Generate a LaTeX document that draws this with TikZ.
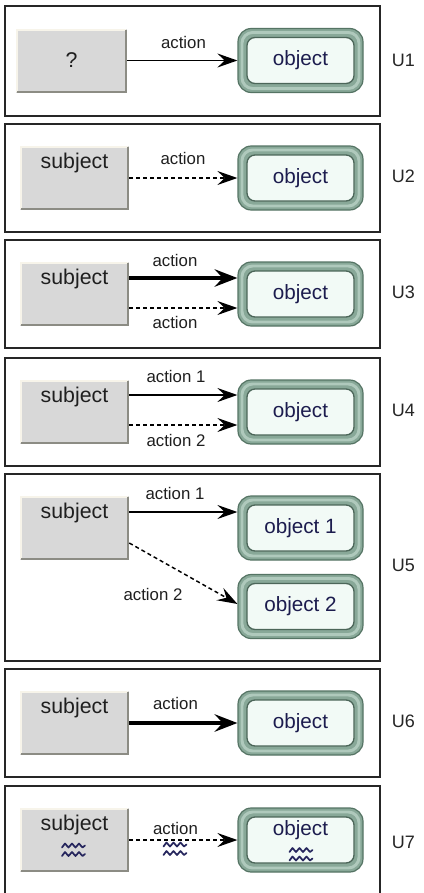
\documentclass[tikz,border=0pt]{standalone}
\usepackage{fontspec}
\setmainfont{Liberation Sans}
\usetikzlibrary{arrows.meta,calc}
\definecolor{ringmid}{HTML}{88A898}
\definecolor{ringdark}{HTML}{557464}
\definecolor{ringlight}{HTML}{AFC9BC}
\definecolor{ringinner}{HTML}{4C6659}
\definecolor{mint}{HTML}{F2FAF6}
\definecolor{subjfill}{HTML}{D8D8D8}
\definecolor{subjlight}{HTML}{F7F4EA}
\definecolor{subjdark}{HTML}{8C8C84}
\definecolor{objtext}{HTML}{1C1C4E}
\definecolor{wavec}{HTML}{27275E}
\begin{document}
\begin{tikzpicture}[x=0.75pt,y=-0.75pt,
  frame/.style={draw=black!85, line width=1.4pt},
  subj/.style={rectangle, fill=subjfill, minimum width=81.75pt, minimum height=48pt,
    inner sep=0pt, font=\fontsize{16}{18}\selectfont, text=black!88,
    path picture={
      \draw[subjlight, line width=1.5pt]
        ([shift={(0.75pt,0.75pt)}]path picture bounding box.south west) |-
        ([shift={(-0.75pt,-0.75pt)}]path picture bounding box.north east);
      \draw[subjdark, line width=1.5pt]
        ([shift={(0.75pt,0.75pt)}]path picture bounding box.south west) -|
        ([shift={(-0.75pt,-0.75pt)}]path picture bounding box.north east);
    }},
  subjtop/.style={subj, text height=17pt, text depth=31pt},
  obj/.style={rectangle, rounded corners=10pt, minimum width=93.75pt, minimum height=48pt,
    inner sep=0pt, draw=ringdark, line width=0.9pt, font=\fontsize{15.5}{18}\selectfont, text=objtext,
    path picture={
      \fill[ringmid] (path picture bounding box.south west) rectangle (path picture bounding box.north east);
      \draw[ringlight, line width=2.2pt, rounded corners=8pt]
        ([shift={(3pt,3pt)}]path picture bounding box.south west) rectangle
        ([shift={(-3pt,-3pt)}]path picture bounding box.north east);
      \draw[fill=mint, draw=ringinner, line width=1pt, rounded corners=6pt]
        ([shift={(6.75pt,6.75pt)}]path picture bounding box.south west) rectangle
        ([shift={(-6.75pt,-6.75pt)}]path picture bounding box.north east);
    }},
  objtop/.style={obj, text height=20.5pt, text depth=27.5pt},
  conn/.style={line width=1.1pt, -{Stealth[length=15pt,width=10.5pt,inset=5.5pt]}},
  dashconn/.style={conn, dash pattern=on 3pt off 2.25pt},
  thickconn/.style={line width=3.4pt, -{Stealth[length=17pt,width=13pt,inset=6pt]}},
  lbl/.style={font=\fontsize{12.6}{14}\selectfont, text=black!88, inner sep=0pt},
  ulbl/.style={font=\fontsize{13.5}{15}\selectfont, text=black!85, inner sep=0pt},
  waves/.pic={
    \foreach \dy in {-4.5,4} {
      \draw[wavec, line width=1.3pt, line join=round, line cap=round, shift={(0,\dy)}]
        (-11.5,1.5) -- (-8.5,-2.5) -- (-5,1.5) -- (-1.5,-2.5) -- (2,1.5) -- (5.5,-2.5) -- (9,1.5) -- (11.5,-0.5);
    }
  }
]
\useasboundingbox[fill=white] (0,0) rectangle (424,893);

% ---------- U1 ----------
\draw[frame] (5,6) rectangle (380,116);
\node[subj, minimum width=83.25pt] (s1) at (71.5,60.5) {?};
\node[obj] (o1) at (300.5,60.5) {object};
\draw[conn] (s1) -- (o1);
\node[lbl] (a1) at (183.5,42) {action};
\node[ulbl] (u1) at (403.5,60) {U1};

% ---------- U2 ----------
\draw[frame] (5,124) rectangle (380,232);
\node[subjtop] (s2) at (74.5,178) {subject};
\node[obj] (o2) at (300.5,178) {object};
\draw[dashconn] (s2) -- (o2);
\node[lbl] (a2) at (183,158) {action};
\node[ulbl] (u2) at (403.5,176) {U2};

% ---------- U3 ----------
\draw[frame] (5,240) rectangle (380,348);
\node[subjtop] (s3) at (74.5,294) {subject};
\node[obj] (o3) at (300.5,294) {object};
\draw[thickconn] ([yshift=12pt]s3.east) -- ([yshift=12pt]o3.west);
\draw[dashconn] ([yshift=-10.5pt]s3.east) -- ([yshift=-10.5pt]o3.west);
\node[lbl] (a3) at (175,260) {action};
\node[lbl] (b3) at (175,322) {action};
\node[ulbl] (u3) at (403.5,292) {U3};

% ---------- U4 ----------
\draw[frame] (5,358) rectangle (380,466);
\node[subjtop] (s4) at (74.5,412) {subject};
\node[obj] (o4) at (300.5,412) {object};
\draw[conn] ([yshift=12.75pt]s4.east) -- ([yshift=12.75pt]o4.west);
\draw[dashconn] ([yshift=-9.75pt]s4.east) -- ([yshift=-9.75pt]o4.west);
\node[lbl] (a4) at (176,376) {action 1};
\node[lbl] (b4) at (176,440) {action 2};
\node[ulbl] (u4) at (403.5,410) {U4};

% ---------- U5 ----------
\draw[frame] (5,474) rectangle (380,661);
\node[subjtop] (s5) at (74.5,528) {subject};
\node[obj] (o5a) at (300.5,528) {object 1};
\node[obj] (o5b) at (300.5,606.5) {object 2};
\draw[conn] ([yshift=12pt]s5.east) -- ([yshift=12pt]o5a.west);
\draw[dashconn] ([yshift=-11.25pt]s5.east) -- ([yshift=1.9pt]o5b.west);
\node[lbl] (a5) at (175,493) {action 1};
\node[lbl] (b5) at (153,594) {action 2};
\node[ulbl] (u5) at (403.5,565) {U5};

% ---------- U6 ----------
\draw[frame] (5,669) rectangle (380,777);
\node[subjtop] (s6) at (74.5,723) {subject};
\node[obj] (o6) at (300.5,723) {object};
\draw[thickconn] (s6) -- (o6);
\node[lbl] (a6) at (175.5,703) {action};
\node[ulbl] (u6) at (403.5,721) {U6};

% ---------- U7 ----------
\draw[frame] (5,900) -- (5,786) -- (380,786) -- (380,900);
\node[subjtop] (s7) at (74.5,840) {subject};
\node[objtop] (o7) at (300.5,840) {object};
\draw[dashconn] (s7) -- (o7);
\node[lbl] (a7) at (175.5,828) {action};
\pic at (73.5,850.5) {waves};
\pic at (175,849.5) {waves};
\pic at (301,855) {waves};
\node[ulbl] (u7) at (403.5,842) {U7};
\end{tikzpicture}
\end{document}
